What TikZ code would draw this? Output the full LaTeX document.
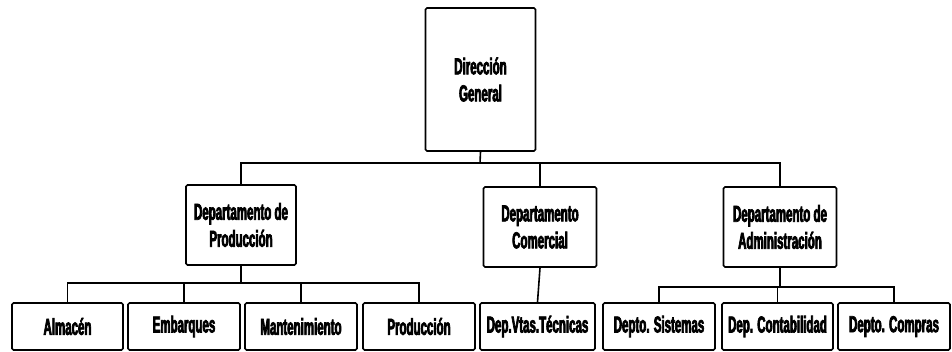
\documentclass[tikz,border=0pt]{standalone}
\usepackage{fontspec}
\newfontfamily\cond{Liberation Sans}[FakeStretch=0.5,FakeBold=3]
\begin{document}
\begin{tikzpicture}[x=1pt,y=-1pt,
  box/.style={draw,line width=1.6pt,rounded corners=1.5pt,inner sep=1pt,
    align=center,font=\cond\bfseries\fontsize{23}{27}\selectfont},
  conn/.style={line width=1.6pt}]
\useasboundingbox (0,0) rectangle (952,352);
% level 1
\node[box,minimum width=110pt,minimum height=143pt] (top) at (480.5,79.5) {Dirección\\General};
% level 2
\node[box,minimum width=110pt,minimum height=80pt] (prod) at (241,225) {Departamento de\\Producción};
\node[box,minimum width=113pt,minimum height=80pt] (com) at (540,227) {Departamento\\Comercial};
\node[box,minimum width=113pt,minimum height=80pt] (adm) at (780,227) {Departamento de\\Administración};
% level 3
\node[box,minimum width=111pt,minimum height=47pt] (alm) at (67.5,326.5) {Almacén};
\node[box,minimum width=112pt,minimum height=47pt] (emb) at (184,326.5) {Embarques};
\node[box,minimum width=112pt,minimum height=47pt] (man) at (301,326.5) {Mantenimiento};
\node[box,minimum width=112pt,minimum height=47pt] (pro) at (419,326.5) {Producción};
\node[box,minimum width=115pt,minimum height=47pt] (vtas) at (537.5,326.5) {Dep.Vtas.Técnicas};
\node[box,minimum width=112pt,minimum height=47pt] (sis) at (659,326.5) {Depto. Sistemas};
\node[box,minimum width=111pt,minimum height=47pt] (con) at (777.5,326.5) {Dep. Contabilidad};
\node[box,minimum width=112pt,minimum height=47pt] (cmp) at (894,326.5) {Depto. Compras};
% buses
\coordinate (b1) at (480,163);
\coordinate (b2) at (0,283);
\coordinate (b3) at (0,287);
\draw[conn] (top.south) -- (b1);
\draw[conn] (prod.north) -- (prod.north |- b1) -| (adm.north);
\draw[conn] (com.north) -- (com.north |- b1);
\draw[conn] (prod.south) -- (prod.south |- b2);
\draw[conn] (alm.north) -- (alm.north |- b2) -| (pro.north);
\draw[conn] (emb.north) -- (emb.north |- b2);
\draw[conn] (man.north) -- (man.north |- b2);
\draw[conn] (com.south) -- (vtas.north);
\draw[conn] (adm.south) -- (adm.south |- b3);
\draw[conn] (sis.north) -- (sis.north |- b3) -| (cmp.north);
\draw[conn] (con.north) -- (con.north |- b3);
\end{tikzpicture}
\end{document}
